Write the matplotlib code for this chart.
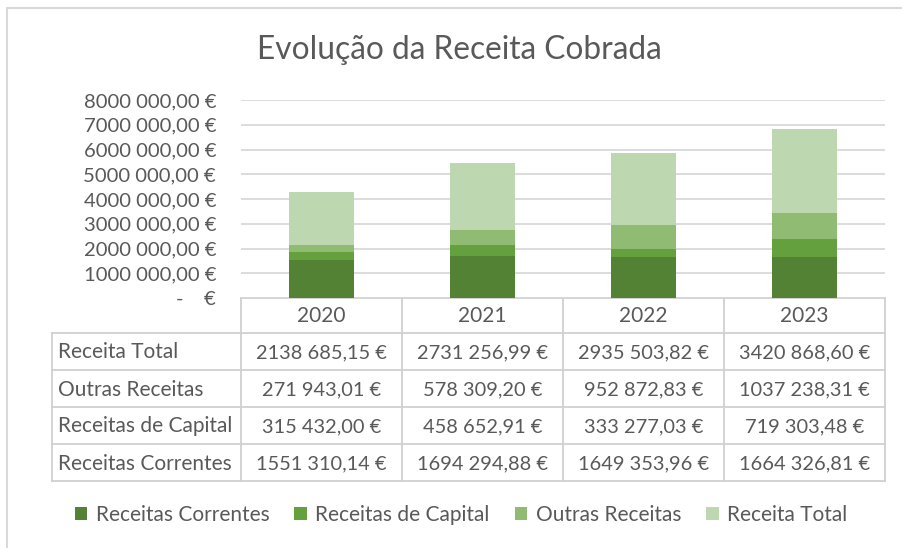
import matplotlib
matplotlib.use("Agg")
import matplotlib.pyplot as plt
from matplotlib.patches import Patch
import numpy as np

years = ["2020", "2021", "2022", "2023"]
series_names = ["Receitas Correntes", "Receitas de Capital", "Outras Receitas", "Receita Total"]
receitas_correntes = [1551310.14, 1694294.88, 1649353.96, 1664326.81]
receitas_capital = [315432.00, 458652.91, 333277.03, 719303.48]
outras_receitas = [271943.01, 578309.20, 952872.83, 1037238.31]
receita_total = [2138685.15, 2731256.99, 2935503.82, 3420868.60]
y_ticks = [0, 1000000, 2000000, 3000000, 4000000, 5000000, 6000000, 7000000, 8000000]

colors = ["#548235", "#65a03f", "#8fbb72", "#bdd7b1"]
TXT = "#595959"
GRID = "#d9d9d9"
FONT = "Lato"

plt.rcParams["font.family"] = [FONT, "DejaVu Sans"]


def eur(v):
    s = f"{v:.2f}"
    ip, dp = s.split(".")
    if len(ip) > 3:
        ip = ip[:-3] + " " + ip[-3:]
    return f"{ip},{dp} €"


W, H = 902, 548
fig = plt.figure(figsize=(W / 100, H / 100), dpi=100)

# overlay axes in pixel coords for frame and table
ov = fig.add_axes([0, 0, 1, 1])
ov.set_xlim(0, W)
ov.set_ylim(H, 0)
ov.axis("off")
ov.plot([7, 7, W + 5], [H + 5, 8, 8], color=GRID, lw=1.5, solid_capstyle="butt")

# chart axes
x0, x1, ytop, ybot = 241, 885, 100, 298
ax = fig.add_axes([x0 / W, 1 - ybot / H, (x1 - x0) / W, (ybot - ytop) / H])
ax.set_facecolor("none")
x = np.arange(len(years))
bottom = np.zeros(len(years))
for name, vals, c in zip(series_names,
                         [receitas_correntes, receitas_capital, outras_receitas, receita_total],
                         colors):
    ax.bar(x, vals, 0.4, bottom=bottom, color=c, label=name, zorder=3)
    bottom += np.array(vals)
ax.set_xlim(-0.5, len(years) - 0.5)
ax.set_ylim(0, 8000000)
ax.set_yticks(y_ticks)
ax.set_yticklabels([eur(v) if v else "-    €" for v in y_ticks], fontsize=14.6, color=TXT)
ax.tick_params(axis="y", length=0, pad=18)
ax.set_xticks([])
ax.grid(axis="y", color=GRID, lw=1.3, zorder=0)
for s in ax.spines.values():
    s.set_visible(False)

# title
fig.text(459 / W, 1 - 50 / H, "Evolução da Receita Cobrada", ha="center", va="center",
         fontsize=22.8, color=TXT)

# table
col_edges = [241, 402, 563, 724, 885]
label_left = 52
row_edges = [298, 333, 370, 407, 444, 481]
LC = "#d0d0d0"
ov.plot([col_edges[0], col_edges[-1]], [row_edges[0], row_edges[0]], color=LC, lw=1.3)
for ce in col_edges:
    ov.plot([ce, ce], [row_edges[0], row_edges[-1]], color=LC, lw=1.3)
for re in row_edges[1:]:
    ov.plot([label_left, col_edges[-1]], [re, re], color=LC, lw=1.3)
ov.plot([label_left, label_left], [row_edges[1], row_edges[-1]], color=LC, lw=1.3)

for i, yr in enumerate(years):
    cx = (col_edges[i] + col_edges[i + 1]) / 2
    ov.text(cx, (row_edges[0] + row_edges[1]) / 2 + 1, yr, ha="center", va="center",
            fontsize=15, color=TXT)

table_rows = [("Receita Total", receita_total), ("Outras Receitas", outras_receitas),
              ("Receitas de Capital", receitas_capital), ("Receitas Correntes", receitas_correntes)]
for r, (name, vals) in enumerate(table_rows):
    cy = (row_edges[r + 1] + row_edges[r + 2]) / 2 + 1
    ov.text(label_left + 6, cy, name, ha="left", va="center", fontsize=15, color=TXT)
    for i, v in enumerate(vals):
        cx = (col_edges[i] + col_edges[i + 1]) / 2
        ov.text(cx, cy, eur(v), ha="center", va="center", fontsize=14.4, color=TXT)

# legend
leg_handles = [Patch(facecolor=c, edgecolor="none") for c in colors]
fig.legend(leg_handles, series_names, loc="center", bbox_to_anchor=(461 / W, 1 - 515 / H),
           ncol=4, frameon=False, fontsize=15, labelcolor=TXT, handlelength=0.6,
           handleheight=0.6, handletextpad=0.4, columnspacing=1.2)

fig.savefig("out.png", dpi=100)
